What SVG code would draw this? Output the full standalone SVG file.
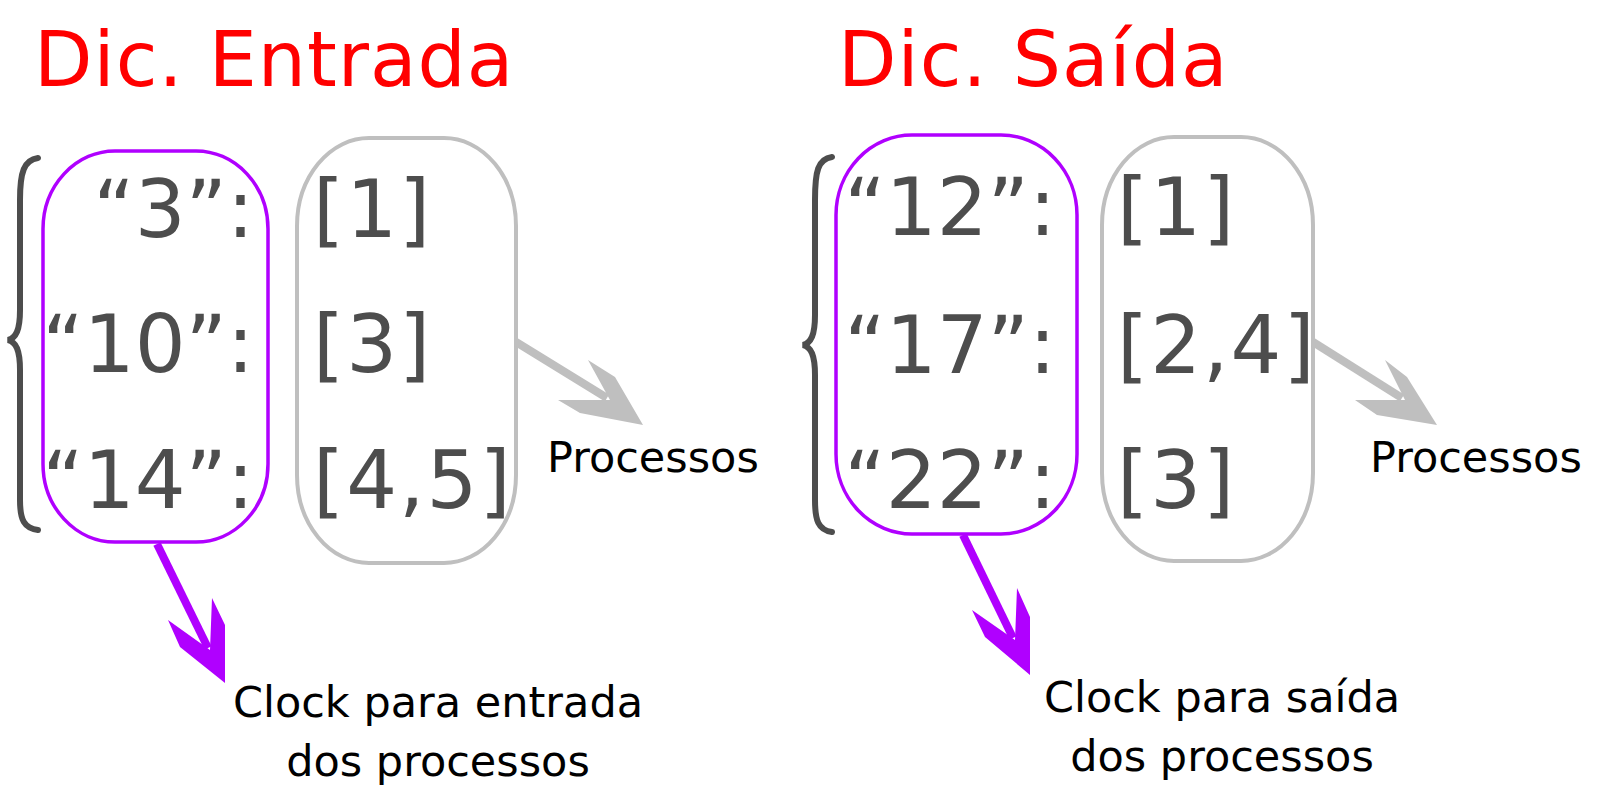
<svg xmlns="http://www.w3.org/2000/svg" width="1600" height="804" viewBox="0 0 1600 804">
<style>
.title{font-family:"DejaVu Sans",Verdana,sans-serif;font-size:76px;letter-spacing:1px;fill:#ff0000}
.big{font-family:"DejaVu Sans",Verdana,sans-serif;font-size:80px;fill:#4d4d4d}
.key{text-anchor:end}
.val{letter-spacing:2px}
.lbl{font-family:"DejaVu Sans",Verdana,sans-serif;font-size:43px;fill:#000}
.mid{text-anchor:middle}
.brace{fill:none;stroke:#4d4d4d;stroke-width:6;stroke-linecap:round}
.pbox{fill:none;stroke:#b000ff;stroke-width:3.5}
.gbox{fill:none;stroke:#bfbfbf;stroke-width:4}
.pshaft{stroke:#b000ff;stroke-width:8}
.gshaft{stroke:#bfbfbf;stroke-width:8}
.phead{fill:#b000ff}
.ghead{fill:#bfbfbf}
</style>
<rect width="1600" height="804" fill="#fff"/>
<g id="entrada">
  <text class="title" x="34" y="86">Dic. Entrada</text>
  <path class="brace" d="M38,158 C24,160 20,172 20,200 L20,310 C20,330 16,338 8,340 C16,342 20,350 20,370 L20,500 C20,520 24,528 38,530"/>
  <g id="entrada-keys">
    <rect class="pbox" x="43" y="151" width="225" height="391" rx="72" ry="78"/>
    <text class="big key" x="254" y="237">“3”:</text>
    <text class="big key" x="254" y="372">“10”:</text>
    <text class="big key" x="254" y="508">“14”:</text>
  </g>
  <g id="entrada-values">
    <rect class="gbox" x="297" y="138" width="219" height="425" rx="72" ry="88"/>
    <text class="big val" x="313" y="237">[1]</text>
    <text class="big val" x="313" y="372">[3]</text>
    <text class="big val" x="313" y="508">[4,5]</text>
  </g>
  <text id="entrada-proc" class="lbl" x="547" y="472">Processos</text>
  <g id="entrada-clock">
    <text class="lbl mid" x="438" y="717">Clock para entrada</text>
    <text class="lbl mid" x="438" y="776">dos processos</text>
  </g>
</g>
<g id="saida">
  <text class="title" x="838" y="86">Dic. Saída</text>
  <path class="brace" d="M832,157 C818,159 815,171 815,200 L815,315 C815,335 811,343 803,345 C811,347 815,355 815,375 L815,500 C815,520 818,530 832,532"/>
  <g id="saida-keys">
    <rect class="pbox" x="836" y="135" width="241" height="399" rx="76" ry="80"/>
    <text class="big key" x="1056" y="235">“12”:</text>
    <text class="big key" x="1056" y="373">“17”:</text>
    <text class="big key" x="1056" y="508">“22”:</text>
  </g>
  <g id="saida-values">
    <rect class="gbox" x="1102" y="137" width="211" height="424" rx="72" ry="88"/>
    <text class="big val" x="1117" y="235">[1]</text>
    <text class="big val" x="1117" y="373">[2,4]</text>
    <text class="big val" x="1117" y="508">[3]</text>
  </g>
  <text id="saida-proc" class="lbl" x="1370" y="472">Processos</text>
  <g id="saida-clock">
    <text class="lbl mid" x="1222" y="712">Clock para saída</text>
    <text class="lbl mid" x="1222" y="771">dos processos</text>
  </g>
</g>
<g id="connectors">
  <line class="pshaft" x1="157" y1="544" x2="208" y2="648"/>
  <polygon class="phead" points="225,683 225,625 212,598 210,650 168,620 180,647"/>
  <line class="pshaft" x1="963" y1="535" x2="1013" y2="638"/>
  <polygon class="phead" points="1030,675 1030,617 1017,588 1015,640 972,610 985,637"/>
  <line class="gshaft" x1="516" y1="342" x2="607" y2="398"/>
  <polygon class="ghead" points="643,425 615,377 588,360 610,400 558,400 580,413"/>
  <line class="gshaft" x1="1313" y1="342" x2="1402" y2="398"/>
  <polygon class="ghead" points="1437,425 1407,377 1385,360 1405,400 1355,400 1377,415"/>
</g>
</svg>
